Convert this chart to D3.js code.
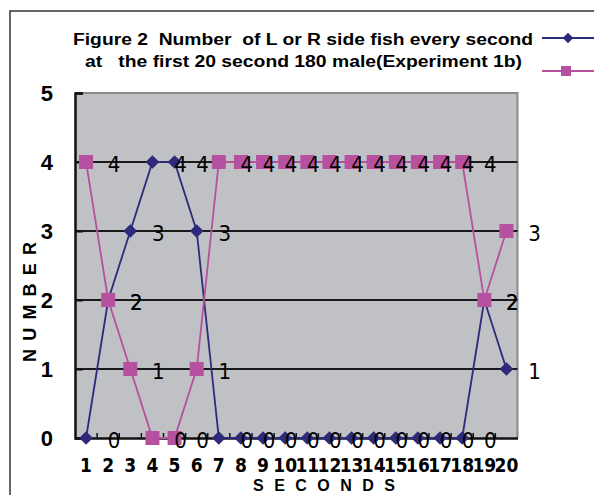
<!DOCTYPE html>
<html><head><meta charset="utf-8">
<script src="https://cdn.jsdelivr.net/npm/d3@7"></script>
<style>body{margin:0;background:#fff}svg{display:block}</style>
</head><body>
<svg id="chart" width="594" height="495"></svg>
<script>
const categories = ["1","2","3","4","5","6","7","8","9","10","11","12","13","14","15","16","17","18","19","20"];
const seriesL = [0,2,3,4,4,3,0,0,0,0,0,0,0,0,0,0,0,0,2,1];
const seriesR = [4,2,1,0,0,1,4,4,4,4,4,4,4,4,4,4,4,4,2,3];
const yTicks = [0,1,2,3,4,5];
const titleLines = ["Figure 2  Number  of L or R side fish every second", "at   the first 20 second 180 male(Experiment 1b)"];
const xTitle = "S E C O N D S";
const yTitle = "N U M B E R";

const navy = "#2d2a7a", magenta = "#b5519e";
const svg = d3.select("#chart");
const L = 75, R = 517.5, T = 93, B = 438;

// outer frame (cropped)
svg.append("rect").attr("x",10).attr("y",11).attr("width",700).attr("height",600)
  .attr("fill","none").attr("stroke","#333").attr("stroke-width",1.5);

const x = d3.scaleBand().domain(categories).range([L, R]);
const y = d3.scaleLinear().domain([0,5]).range([B, T]);
const cx = d => x(d) + x.bandwidth()/2;

// plot background
svg.append("rect").attr("x",L).attr("y",T).attr("width",R-L).attr("height",B-T).attr("fill","#c0c1c5");
// top/right border
svg.append("path").attr("d",`M${L},${T}H${R}V${B}`).attr("fill","none").attr("stroke","#8a8a8a").attr("stroke-width",2);
// gridlines
svg.append("g").selectAll("line").data([1,2,3,4]).join("line")
  .attr("x1",L).attr("x2",R).attr("y1",d=>y(d)).attr("y2",d=>y(d))
  .attr("stroke","#1a1a1a").attr("stroke-width",2);

// axes
const yAxis = svg.append("g").attr("transform",`translate(${L},0)`)
  .call(d3.axisLeft(y).tickValues(yTicks).tickSize(-8).tickPadding(22).tickFormat(d3.format("d")));
yAxis.select(".domain").attr("stroke","#111").attr("stroke-width",2.5);
yAxis.selectAll(".tick line").attr("stroke","#111").attr("stroke-width",2);
yAxis.selectAll("text").attr("font-family","Liberation Sans, Arial, sans-serif").attr("font-weight","bold")
  .attr("font-size",22).attr("fill","#000").attr("dy","0.36em");

const xAxis = svg.append("g").attr("transform",`translate(0,${B})`)
  .call(d3.axisBottom(x).tickSize(0).tickPadding(22));
xAxis.select(".domain").attr("stroke","#111").attr("stroke-width",2.5);
xAxis.selectAll("text").attr("font-family","Liberation Sans Narrow, DejaVu Sans Condensed, sans-serif").attr("font-weight","bold")
  .attr("font-size",19).attr("fill","#000").attr("dy","0.36em").attr("y",27);
// inner category boundary ticks
svg.append("g").selectAll("line").data(categories.slice(1)).join("line")
  .attr("x1",d=>x(d)).attr("x2",d=>x(d)).attr("y1",B).attr("y2",B-5)
  .attr("stroke","#111").attr("stroke-width",1.5);

// series lines
const line = d3.line().x((d,i)=>cx(categories[i])).y(d=>y(d));
svg.append("path").datum(seriesL).attr("d",line).attr("fill","none").attr("stroke",navy).attr("stroke-width",1.8);
svg.append("g").selectAll("path").data(seriesL).join("path")
  .attr("d",d3.symbol(d3.symbolDiamond2, 120)).attr("fill",navy)
  .attr("transform",(d,i)=>`translate(${cx(categories[i])},${y(d)})`);
svg.append("path").datum(seriesR).attr("d",line).attr("fill","none").attr("stroke",magenta).attr("stroke-width",1.8);
svg.append("g").selectAll("rect").data(seriesR).join("rect")
  .attr("x",(d,i)=>cx(categories[i])-7).attr("y",d=>y(d)-7).attr("width",14).attr("height",14).attr("fill",magenta);

// data labels
const labFont = "Liberation Sans Narrow, DejaVu Sans Condensed, sans-serif";
[seriesL, seriesR].forEach(s => {
  svg.append("g").selectAll("text").data(s).join("text")
    .attr("x",(d,i)=>cx(categories[i])+28).attr("y",d=>y(d)+2)
    .attr("text-anchor","middle").attr("dominant-baseline","central")
    .attr("font-family",labFont).attr("font-size",22).attr("fill","#000").text(d=>d);
});

// titles
const tf = "Liberation Sans, Arial, sans-serif";
svg.append("text").attr("x",73).attr("y",45).attr("font-family",tf).attr("font-weight","bold").attr("font-size",16)
  .attr("textLength",460).attr("lengthAdjust","spacingAndGlyphs").attr("xml:space","preserve").text(titleLines[0]);
svg.append("text").attr("x",85).attr("y",67).attr("font-family",tf).attr("font-weight","bold").attr("font-size",16)
  .attr("textLength",437).attr("lengthAdjust","spacingAndGlyphs").attr("xml:space","preserve").text(titleLines[1]);

// legend samples
svg.append("line").attr("x1",542).attr("x2",594).attr("y1",38).attr("y2",38).attr("stroke",navy).attr("stroke-width",1.8);
svg.append("path").attr("d",d3.symbol(d3.symbolDiamond2,70)).attr("fill",navy).attr("transform","translate(568,38)");
svg.append("line").attr("x1",542).attr("x2",594).attr("y1",71).attr("y2",71).attr("stroke",magenta).attr("stroke-width",1.8);
svg.append("rect").attr("x",561).attr("y",66).attr("width",10).attr("height",10).attr("fill",magenta);

// axis titles
svg.append("text").attr("x",253).attr("y",491).attr("font-family",tf)
  .attr("font-weight","bold").attr("font-size",16).attr("textLength",142).attr("lengthAdjust","spacing")
  .attr("xml:space","preserve").text(xTitle);
svg.append("text").attr("transform","translate(36,362) rotate(-90)").attr("font-family",tf)
  .attr("font-weight","bold").attr("font-size",18).attr("textLength",120).attr("lengthAdjust","spacing")
  .attr("xml:space","preserve").text(yTitle);
</script>
</body></html>
